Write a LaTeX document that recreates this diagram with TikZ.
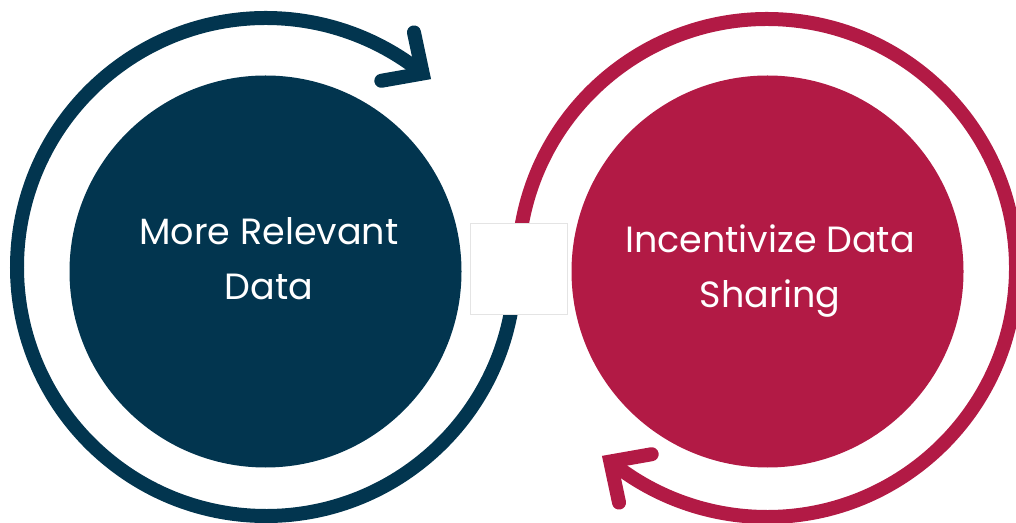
\documentclass[tikz,border=0pt]{standalone}
\usepackage{fontspec}
\setmainfont{Poppins}
\definecolor{navy}{HTML}{02354F}
\definecolor{crimson}{HTML}{B21A45}
\definecolor{boxline}{HTML}{E4E4E4}
\begin{document}
\begin{tikzpicture}[x=1pt,y=1pt,
  ring/.style={line width=14pt},
  tiphead/.style={line width=14pt, line cap=round, line join=miter, miter limit=10},
  disc/.style={circle, inner sep=0pt, minimum size=392pt},
  label/.style={text=white, align=center, font=\fontsize{36.5}{55}\selectfont}]
\useasboundingbox (0,0) rectangle (1016,522);

% cycle rings
\draw[ring, navy] (266,255) ++(-2:249) arc[start angle=-2, end angle=-309, radius=249] coordinate (lend);
\path (lend) ++(102:42) coordinate (la) (lend) ++(190:42) coordinate (lb);
\draw[tiphead, navy] (la) -- (lend) -- (lb);

\draw[ring, crimson] (767,254) ++(178:249) arc[start angle=178, end angle=-129, radius=249] coordinate (rend);
\path (rend) ++(282:42) coordinate (ra) (rend) ++(10:42) coordinate (rb);
\draw[tiphead, crimson] (ra) -- (rend) -- (rb);

% centre panel covering the ring ends
\draw[fill=white, draw=boxline, line width=0.8pt] (470.5,208) rectangle (567,299);

% filled discs
\node[disc, fill=navy] (left) at (265.5,250.5) {};
\node[disc, fill=crimson] (right) at (767.5,250.5) {};

% labels (base anchor sits on the last line)
\node[label, anchor=base] (ltext) at (269,222) {More Relevant\\Data};
\node[label, anchor=base] (rtext) at (770,214) {Incentivize Data\\Sharing};
\end{tikzpicture}
\end{document}
